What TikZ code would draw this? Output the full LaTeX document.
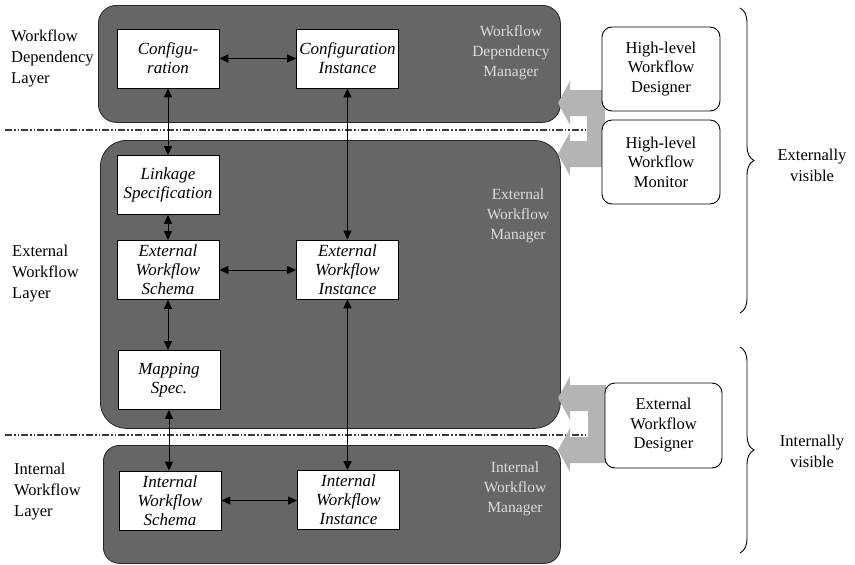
\documentclass[tikz,border=0pt]{standalone}
\usepackage{fontspec}
\setmainfont{Liberation Serif}
\usetikzlibrary{arrows.meta,decorations.pathreplacing,calc}

\definecolor{layerfill}{HTML}{666666}
\definecolor{forkfill}{HTML}{B4B4B4}
\definecolor{mgrtext}{HTML}{DCDCDC}
\definecolor{sepcol}{HTML}{3A3A3A}

\begin{document}
\begin{tikzpicture}[x=1pt,y=-1pt,
  layer/.style={draw=black!85, line width=0.8pt, fill=layerfill, inner sep=0pt},
  item/.style={draw=black, line width=0.8pt, fill=white, inner sep=0pt,
    minimum width=102pt, minimum height=59pt, align=center,
    font=\itshape\fontsize{17}{19}\selectfont},
  tool/.style={draw=black, line width=0.9pt, fill=white, rounded corners=10pt,
    inner sep=0pt, minimum width=118pt, minimum height=84pt, align=center,
    font=\fontsize{16.5}{19.5}\selectfont},
  mgr/.style={text=mgrtext, align=center, inner sep=0pt,
    font=\fontsize{15.5}{20}\selectfont},
  lbl/.style={align=left, inner sep=0pt, anchor=west,
    font=\fontsize{16.5}{21}\selectfont},
  vis/.style={align=center, inner sep=0pt, font=\fontsize{16.5}{21}\selectfont},
  conn/.style={{Triangle[length=9pt,width=8pt]}-{Triangle[length=9pt,width=8pt]},
    line width=1pt},
  sepline/.style={sepcol, line width=1.4pt,
    dash pattern=on 7pt off 2pt on 1.6pt off 2pt on 1.6pt off 2pt},
  fork/.style={fill=forkfill},
  bracket/.style={decorate, decoration={brace, amplitude=14pt}, line width=0.9pt},
]
\useasboundingbox (0,0) rectangle (855,565);

% layer backgrounds
\node[layer, rounded corners=18pt, minimum width=462pt, minimum height=117pt,
  anchor=north west] (wdl) at (98,5) {};
\node[layer, rounded corners=26pt, minimum width=460pt, minimum height=288pt,
  anchor=north west] (ewl) at (100,140) {};
\node[layer, rounded corners=16pt, minimum width=457pt, minimum height=118pt,
  anchor=north west] (iwl) at (103,445) {};

% layer separators
\coordinate (s1a) at (5,130);   \coordinate (s1b) at (587,130);
\coordinate (s2a) at (5,435);   \coordinate (s2b) at (588,435);
\draw[sepline] (s1a) -- (s1b);
\draw[sepline] (s2a) -- (s2b);

% manager names
\node[mgr] (wdm) at (511,53)  {Workflow\\Dependency\\Manager};
\node[mgr] (ewm) at (518,216) {External\\Workflow\\Manager};
\node[mgr] (iwm) at (515,489) {Internal\\Workflow\\Manager};

% layer names
\node[lbl] (lwd) at (11,58)  {Workflow\\Dependency\\Layer};
\node[lbl] (lew) at (12,274) {External\\Workflow\\Layer};
\node[lbl] (liw) at (14,492) {Internal\\Workflow\\Layer};

% schema and instance boxes
\node[item] (conf)  at (168,58.5)  {Configu-\\ration};
\node[item] (confi) at (347.5,58.5) {Configuration\\Instance};
\node[item] (link)  at (168,185)   {Linkage\\Specification};
\node[item] (eschema) at (168,270) {External\\Workflow\\Schema};
\node[item] (einst) at (347.5,269.5) {External\\Workflow\\Instance};
\node[item] (mapsp) at (169,380)   {Mapping\\Spec.};
\node[item] (ischema) at (170,500.5) {Internal\\Workflow\\Schema};
\node[item] (iinst) at (348.5,500) {Internal\\Workflow\\Instance};

% relations
\draw[conn] (conf.east) -- (confi.west);
\draw[conn] (conf.south) -- (conf.south |- link.north);
\draw[conn] (link.south) -- (link.south |- eschema.north);
\draw[conn] (confi.south) -- (confi.south |- einst.north);
\draw[conn] (eschema.east) -- (eschema.east -| einst.west);
\draw[conn] (eschema.south) -- (eschema.south |- mapsp.north);
\draw[conn] (mapsp.south) -- (mapsp.south |- ischema.north);
\draw[conn] (einst.south) -- (einst.south |- iinst.north);
\draw[conn] (ischema.east) -- (ischema.east -| iinst.west);

% design tools feeding the managers
\fill[fork] (605,90) -- (570,90) -- (570,81) -- (558,103) -- (570,125) -- (570,116)
  -- (587,116) -- (587,141) -- (570,141) -- (570,132) -- (558,154) -- (570,176)
  -- (570,167) -- (605,167) -- cycle;
\fill[fork] (606,385) -- (570,385) -- (570,376) -- (558,398) -- (570,420) -- (570,411)
  -- (588,411) -- (588,437) -- (570,437) -- (570,428) -- (558,450) -- (570,472)
  -- (570,463) -- (606,463) -- cycle;

\node[tool] (hld) at (661,69)    {High-level\\Workflow\\Designer};
\node[tool] (hlm) at (661,162)   {High-level\\Workflow\\Monitor};
\node[tool, minimum width=117pt, minimum height=85pt] (ewd) at (663.5,425.5)
  {External\\Workflow\\Designer};

% visibility braces
\coordinate (b1a) at (740,8);   \coordinate (b1b) at (740,313);
\coordinate (b2a) at (740,347); \coordinate (b2b) at (740,553);
\draw[bracket] (b1a) -- (b1b);
\draw[bracket] (b2a) -- (b2b);
\node[vis] (ext) at (812,165) {Externally\\visible};
\node[vis] (int) at (812,451) {Internally\\visible};
\end{tikzpicture}
\end{document}
